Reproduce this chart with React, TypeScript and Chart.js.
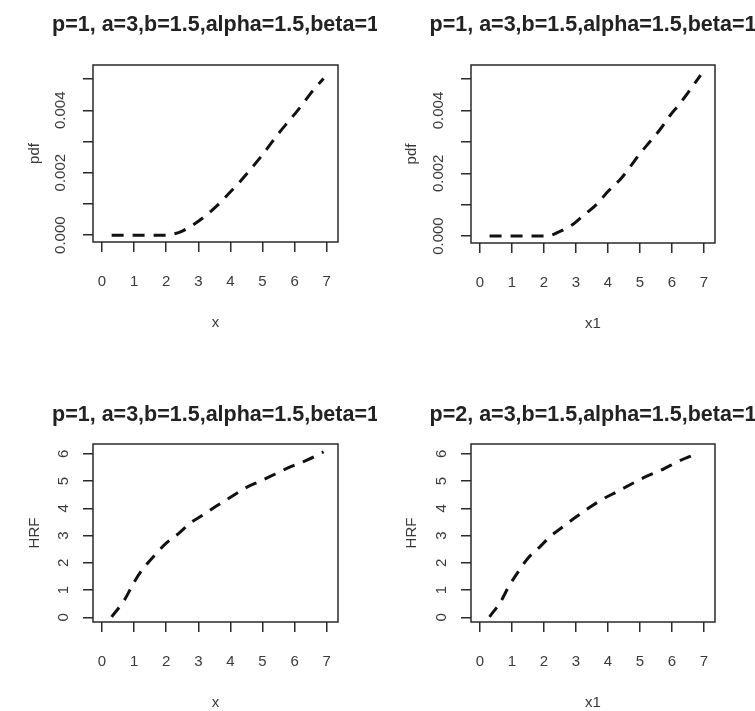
import React, { useEffect, useRef } from "react";
import { Chart, registerables } from "chart.js";

Chart.register(...registerables);

// ---- data ----
const xTicks = [0, 1, 2, 3, 4, 5, 6, 7];
const pdfTicks = [0, 0.001, 0.002, 0.003, 0.004, 0.005];
const pdfTickLabels = ["0.000", "", "0.002", "", "0.004", ""];
const hrfTicks = [0, 1, 2, 3, 4, 5, 6];
const hrfTickLabels = ["0", "1", "2", "3", "4", "5", "6"];

const titles = [
  "p=1, a=3,b=1.5,alpha=1.5,beta=1",
  "p=1, a=3,b=1.5,alpha=1.5,beta=1",
  "p=1, a=3,b=1.5,alpha=1.5,beta=1",
  "p=2, a=3,b=1.5,alpha=1.5,beta=1",
];
const xAxisLabels = ["x", "x1", "x", "x1"];
const yAxisLabels = ["pdf", "pdf", "HRF", "HRF"];

const pdf1X = [0.3, 1, 2, 2.25, 2.5, 2.9, 3.25, 3.6, 3.9, 4.25, 4.6, 4.95, 5.2, 5.5, 5.85, 6.2, 6.5, 6.9];
const pdf1Y = [0, 0, 0, 0.00004, 0.00013, 0.00037, 0.00064, 0.00096, 0.00128, 0.00166, 0.00208, 0.00251, 0.00285, 0.00326, 0.00369, 0.00413, 0.00454, 0.00502];

const pdf2X = [0.3, 1, 2, 2.2, 2.4, 2.9, 3.25, 3.65, 4.0, 4.4, 4.7, 5.0, 5.3, 5.65, 5.95, 6.25, 6.55, 6.9];
const pdf2Y = [0, 0, 0, 0.00002, 0.0001, 0.00037, 0.00067, 0.00101, 0.00142, 0.00182, 0.00221, 0.00262, 0.00299, 0.00342, 0.00385, 0.00422, 0.00463, 0.00513];

const hrf1X = [0.3, 0.7, 1.0, 1.25, 1.65, 2.0, 2.4, 2.75, 3.15, 3.6, 4.05, 4.5, 4.95, 5.4, 5.9, 6.4, 6.9];
const hrf1Y = [0.02, 0.64, 1.29, 1.74, 2.29, 2.72, 3.09, 3.46, 3.76, 4.11, 4.44, 4.77, 5.01, 5.26, 5.54, 5.78, 6.07];

const hrf2X = [0.3, 0.65, 0.9, 1.2, 1.5, 1.85, 2.2, 2.6, 3.0, 3.4, 3.8, 4.3, 4.75, 5.2, 5.75, 6.2, 6.7, 6.85];
const hrf2Y = [0.02, 0.58, 1.13, 1.68, 2.17, 2.56, 2.97, 3.33, 3.68, 4.01, 4.31, 4.62, 4.9, 5.17, 5.45, 5.72, 5.97, 6.05];

const xRange = [-0.28, 7.35];
const pdfRange = [-0.00022, 0.00545];
const hrfRange = [-0.17, 6.36];

// ---- layout (canvas geometry only) ----
type Panel = {
  left: number; top: number; w: number; h: number;
  boxL: number; boxR: number; boxT: number; boxB: number;
  titlePadTop: number; yTickPad: number;
};

const panels: Panel[] = [
  { left: 0, top: 0, w: 377, h: 355, boxL: 93, boxR: 338, boxT: 65, boxB: 242, titlePadTop: 14, yTickPad: 3 },
  { left: 377, top: 0, w: 378, h: 355, boxL: 94, boxR: 338, boxT: 65, boxB: 243, titlePadTop: 14, yTickPad: 3 },
  { left: 0, top: 355, w: 377, h: 356, boxL: 93, boxR: 338, boxT: 89, boxB: 267, titlePadTop: 49, yTickPad: 15 },
  { left: 377, top: 355, w: 378, h: 356, boxL: 94, boxR: 338, boxT: 89, boxB: 267, titlePadTop: 49, yTickPad: 15 },
];

const FONT = "'Liberation Sans', Arial, sans-serif";
const NARROW = "'Liberation Sans Narrow', 'Liberation Sans', Arial, sans-serif";

const boxPlugin = {
  id: "rbox",
  afterDraw(chart: any) {
    const { ctx, chartArea: a } = chart;
    ctx.save();
    ctx.strokeStyle = "#2a2a2a";
    ctx.lineWidth = 1.5;
    ctx.strokeRect(a.left, a.top, a.right - a.left, a.bottom - a.top);
    ctx.restore();
  },
};

// let the title overhang the plot region (as R does) instead of being squeezed to its width
const widenTitlePlugin = {
  id: "widenTitle",
  afterLayout(chart: any) {
    const t = chart.titleBlock;
    if (t) {
      t.left -= 90;
      t.right += 90;
      t.width = t.right - t.left;
    }
  },
};

function makeConfig(i: number) {
  const p = panels[i];
  const isPdf = i < 2;
  const xs = [pdf1X, pdf2X, hrf1X, hrf2X][i];
  const ys = [pdf1Y, pdf2Y, hrf1Y, hrf2Y][i];
  const yTicks = isPdf ? pdfTicks : hrfTicks;
  const yTickLabels = isPdf ? pdfTickLabels : hrfTickLabels;
  const yRange = isPdf ? pdfRange : hrfRange;
  const titleSize = 21.5;
  return {
    type: "line" as const,
    data: {
      datasets: [
        {
          data: xs.map((x, k) => ({ x, y: ys[k] })),
          borderColor: "#111",
          borderWidth: 3,
          borderDash: [12, 9],
          borderCapStyle: "butt" as const,
          pointRadius: 0,
          fill: false,
          cubicInterpolationMode: "monotone" as const,
        },
      ],
    },
    options: {
      responsive: false,
      animation: false as const,
      events: [],
      layout: { padding: { top: 0, left: 0, bottom: 0, right: p.w - p.boxR } },
      plugins: {
        legend: { display: false },
        tooltip: { enabled: false },
        title: {
          display: true,
          text: titles[i],
          fullSize: false,
          color: "#222",
          font: { family: FONT, size: titleSize, weight: "bold" as const, lineHeight: 1 },
          padding: { top: p.titlePadTop, bottom: p.boxT - p.titlePadTop - titleSize },
        },
      },
      scales: {
        x: {
          type: "linear" as const,
          min: xRange[0],
          max: xRange[1],
          afterBuildTicks: (s: any) => {
            s.ticks = xTicks.map((v) => ({ value: v }));
          },
          afterFit: (s: any) => {
            s.height = p.h - p.boxB;
          },
          ticks: {
            autoSkip: false,
            maxRotation: 0,
            padding: 21,
            color: "#3a3a3a",
            font: { family: NARROW, size: 15 },
            callback: (v: any) => String(v),
          },
          grid: {
            drawOnChartArea: false,
            drawTicks: true,
            tickLength: 10,
            color: "#2a2a2a",
            lineWidth: 1.5,
          },
          border: { display: false },
          title: {
            display: true,
            text: xAxisLabels[i],
            color: "#3a3a3a",
            font: { family: FONT, size: 15, lineHeight: 1 },
            padding: { top: 0, bottom: p.h - p.boxB - 81 - 7.5 },
          },
        },
        y: {
          type: "linear" as const,
          min: yRange[0],
          max: yRange[1],
          afterBuildTicks: (s: any) => {
            s.ticks = yTicks.map((v) => ({ value: v }));
          },
          afterFit: (s: any) => {
            s.width = p.boxL;
          },
          ticks: {
            autoSkip: false,
            minRotation: 90,
            maxRotation: 90,
            crossAlign: "center" as const,
            padding: p.yTickPad,
            color: "#3a3a3a",
            font: { family: NARROW, size: 15 },
            callback: (v: any) => {
              const k = yTicks.indexOf(v);
              return k >= 0 ? yTickLabels[k] : "";
            },
          },
          grid: {
            drawOnChartArea: false,
            drawTicks: true,
            tickLength: 10,
            color: "#2a2a2a",
            lineWidth: 1.5,
          },
          border: { display: false },
          title: {
            display: true,
            text: yAxisLabels[i],
            color: "#3a3a3a",
            font: { family: FONT, size: 15, lineHeight: 1 },
            padding: { top: 27, bottom: 0 },
          },
        },
      },
    },
    plugins: [widenTitlePlugin, boxPlugin],
  };
}

function PanelChart({ index }: { index: number }) {
  const ref = useRef<HTMLCanvasElement | null>(null);
  useEffect(() => {
    if (!ref.current) return;
    const chart = new Chart(ref.current, makeConfig(index) as any);
    return () => chart.destroy();
  }, [index]);
  const p = panels[index];
  return (
    <canvas
      ref={ref}
      width={p.w}
      height={p.h}
      style={{ position: "absolute", left: p.left, top: p.top, width: p.w, height: p.h, display: "block" }}
    />
  );
}

export default function App() {
  return (
    <div style={{ position: "absolute", left: 0, top: 0, width: 755, height: 711, background: "#fff", overflow: "hidden" }}>
      {[0, 1, 2, 3].map((i) => (
        <PanelChart key={i} index={i} />
      ))}
    </div>
  );
}
